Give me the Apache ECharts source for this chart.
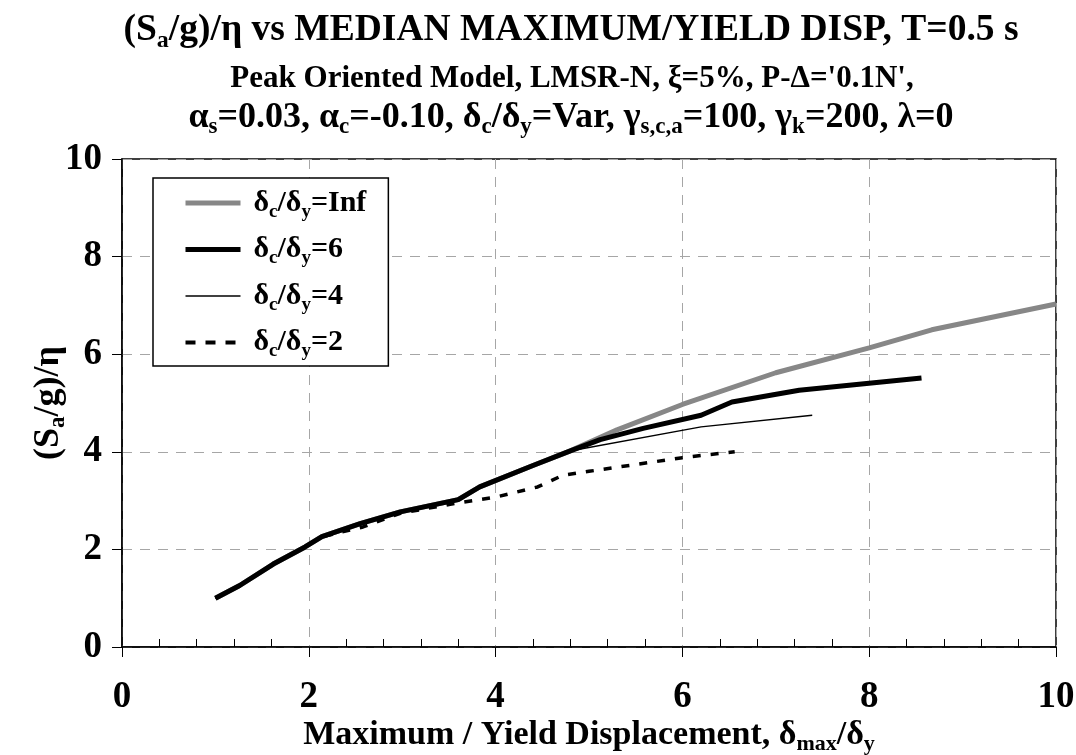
<!DOCTYPE html>
<html>
<head>
<meta charset="utf-8">
<script src="https://cdn.jsdelivr.net/npm/echarts@6/dist/echarts.min.js"></script>
<style>
  html, body { margin: 0; padding: 0; background: #fff; }
  #chart { width: 1076px; height: 755px; }
</style>
</head>
<body>
<div id="chart"></div>
<script>
// curves: [delta_max/delta_y, (Sa/g)/eta]
const curveInf = [[1.0, 1.0], [1.26, 1.26], [1.62, 1.7], [1.96, 2.05], [2.14, 2.26], [2.55, 2.53], [2.98, 2.77], [3.6, 3.02], [3.83, 3.28], [4.4, 3.72], [4.8, 4.02], [5.3, 4.45], [6.0, 4.97], [7.0, 5.62], [8.0, 6.13], [8.67, 6.5], [10.0, 7.03]];
const curve6 = [[1.0, 1.0], [1.26, 1.26], [1.62, 1.7], [1.96, 2.05], [2.14, 2.26], [2.55, 2.53], [2.98, 2.77], [3.6, 3.02], [3.83, 3.28], [4.4, 3.72], [4.8, 4.02], [5.12, 4.25], [5.58, 4.48], [6.2, 4.75], [6.53, 5.02], [7.25, 5.26], [8.56, 5.51]];
const curve4 = [[1.0, 1.0], [1.26, 1.26], [1.62, 1.7], [1.96, 2.05], [2.14, 2.26], [2.55, 2.53], [2.98, 2.77], [3.6, 3.02], [3.83, 3.28], [4.4, 3.72], [4.78, 4.01], [6.2, 4.51], [7.39, 4.75]];
const curve2 = [[1.0, 1.0], [1.26, 1.26], [1.62, 1.7], [1.96, 2.05], [2.14, 2.26], [2.58, 2.46], [2.98, 2.74], [3.5, 2.92], [4.0, 3.07], [4.45, 3.28], [4.72, 3.52], [5.0, 3.6], [5.5, 3.74], [6.0, 3.88], [6.56, 4.0]];
const seriesNames = ['Inf', '6', '4', '2'];

const font = 'Liberation Serif';
const bold = { fontFamily: font, fontWeight: 'bold', color: '#000' };

// rich text: main size + subscript dropped by padding
function richSet(size, subSize, drop) {
  return {
    m: { ...bold, fontSize: size },
    s: { ...bold, fontSize: subSize, padding: [drop, 0, 0, 0] },
    g: { width: 8 }
  };
}

const chart = echarts.init(document.getElementById('chart'));
const lineData = [curveInf, curve6, curve4, curve2];
const lineStyles = [
  { color: '#878787', width: 5 },
  { color: '#000', width: 5 },
  { color: '#000', width: 1.4 },
  { color: '#000', width: 3.5, type: [8, 10] }
];
const legendLines = [
  { color: '#878787', width: 5 },
  { color: '#000', width: 5 },
  { color: '#000', width: 1.4 },
  { color: '#000', width: 4, type: [10, 10] }
];

chart.setOption({
  animation: false,
  backgroundColor: '#fff',
  title: [
    {
      text: '{m|(S}{s|a}{m|/g)/η vs MEDIAN MAXIMUM/YIELD DISP, T=0.5 s}',
      left: 566, top: 2, textAlign: 'center',
      textStyle: { rich: richSet(37.5, 24, 22) }
    },
    {
      text: "{m|Peak Oriented Model, LMSR-N, ξ=5%, P-Δ='0.1N',}",
      left: 567, top: 58, textAlign: 'center',
      textStyle: { rich: richSet(31, 20, 16) }
    },
    {
      text: '{m|α}{s|s}{m|=0.03, α}{s|c}{m|=-0.10, δ}{s|c}{m|/δ}{s|y}{m|=Var, γ}{s|s,c,a}{m|=100, γ}{s|k}{m|=200, λ=0}',
      left: 566, top: 92, textAlign: 'center',
      textStyle: { rich: richSet(36, 23, 19) }
    }
  ],
  grid: {
    left: 122, right: 20, top: 159, bottom: 108,
    outerBoundsMode: 'none',
    show: true, borderColor: '#000', borderWidth: 1.5, backgroundColor: 'transparent'
  },
  legend: {
    orient: 'vertical',
    left: 153, top: 178,
    padding: [10, 22, 5, 30],
    itemGap: 13,
    itemWidth: 55, itemHeight: 14,
    backgroundColor: '#fff',
    borderColor: '#000', borderWidth: 1.5,
    data: seriesNames.map((n, i) => ({
      name: n,
      itemStyle: { opacity: 0 },
      lineStyle: legendLines[i]
    })),
    formatter: name => '{g|}{m|δ}{s|c}{m|/δ}{s|y}{m|=' + name + '}',
    textStyle: { rich: richSet(30, 19, 18) }
  },
  xAxis: [
    {
      type: 'value', min: 0, max: 10, interval: 2,
      axisLine: { onZero: false, lineStyle: { color: '#000', width: 1.5 } },
      axisTick: { show: true, length: 10, lineStyle: { color: '#000', width: 1 } },
      axisLabel: { margin: 32, ...bold, fontSize: 37 },
      splitLine: { show: true, lineStyle: { color: '#a6a6a6', width: 1, type: [10, 8] } },
      name: '{m|Maximum / Yield Displacement, δ}{s|max}{m|/δ}{s|y}',
      nameLocation: 'middle', nameGap: 68, nameMoveOverlap: false,
      nameTextStyle: { rich: richSet(34, 22, 18) }
    },
    {
      type: 'value', min: 0, max: 10, interval: 2,
      position: 'bottom',
      axisLine: { show: false },
      axisTick: { show: false, inside: true },
      minorTick: { show: true, splitNumber: 5, length: 8, lineStyle: { color: '#000', width: 1 } },
      axisLabel: { show: false },
      splitLine: { show: false }
    }
  ],
  yAxis: {
    type: 'value', min: 0, max: 10, interval: 2,
    axisLine: { show: true, onZero: false, lineStyle: { color: '#000', width: 1.5 } },
    axisTick: { show: true, length: 10, lineStyle: { color: '#000', width: 1 } },
    axisLabel: { margin: 20, ...bold, fontSize: 37 },
    splitLine: { show: true, lineStyle: { color: '#a6a6a6', width: 1, type: [10, 8] } },
    name: '{m|(S}{s|a}{m|/g)/η}',
    nameLocation: 'middle', nameGap: 52, nameRotate: 90, nameMoveOverlap: false,
    nameTextStyle: { rich: richSet(36, 23, 19) }
  },
  series: lineData.map((d, i) => ({
    name: seriesNames[i],
    type: 'line',
    data: d,
    showSymbol: false,
    symbol: 'none',
    lineStyle: lineStyles[i],
    z: 2 + i
  }))
});
</script>
</body>
</html>
